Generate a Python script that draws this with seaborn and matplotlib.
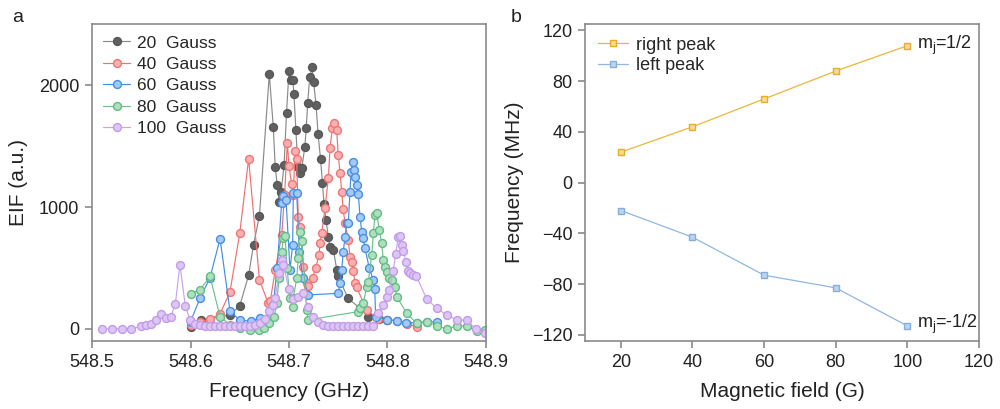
import matplotlib
matplotlib.use("Agg")
import matplotlib.pyplot as plt
import seaborn as sns

# ---- panel a: EIF scans at different fields ----
f_20 = [548.600, 548.611, 548.640, 548.650, 548.659, 548.664, 548.670, 548.680, 548.684, 548.686,
        548.688, 548.690, 548.692, 548.695, 548.6975, 548.700, 548.702, 548.704, 548.705, 548.707,
        548.709, 548.711, 548.713, 548.716, 548.7175, 548.719, 548.721, 548.7235, 548.725, 548.7275,
        548.7295, 548.732, 548.734, 548.7355, 548.7375, 548.740, 548.7415, 548.745, 548.7485, 548.750,
        548.760, 548.772, 548.780, 548.791, 548.799]
eif_20 = [15, 70, 115, 190, 440, 690, 930, 2090, 1660, 1330,
          1180, 1045, 1120, 1345, 1775, 2115, 2045, 2040, 1925, 1630,
          1330, 1275, 1320, 1490, 1645, 1855, 2065, 2145, 2025, 1835,
          1600, 1395, 1195, 1025, 895, 750, 675, 650, 485, 430,
          250, 170, 100, 80, 75]

f_40 = [548.600, 548.610, 548.620, 548.630, 548.640, 548.650, 548.659, 548.670, 548.679, 548.681,
        548.686, 548.6926, 548.6955, 548.6983, 548.700, 548.7027, 548.7044, 548.7061, 548.7078, 548.7094,
        548.7112, 548.7145, 548.718, 548.7196, 548.724, 548.727, 548.7305, 548.7315, 548.7332, 548.7365,
        548.740, 548.7416, 548.744, 548.746, 548.7484, 548.750, 548.7518, 548.7535, 548.755, 548.7569,
        548.7602, 548.7619, 548.7637, 548.7653, 548.767, 548.7687, 548.7789, 548.7906, 548.800, 548.8093,
        548.8195, 548.8296]
eif_40 = [35, 60, 80, 125, 300, 785, 1395, 400, 210, 230,
          480, 770, 1100, 1527, 1336, 1185, 1100, 1461, 1391, 921,
          839, 511, 375, 352, 420, 500, 607, 702, 784, 989,
          1240, 1481, 1645, 1686, 1631, 1426, 1281, 1125, 981, 866,
          730, 593, 552, 478, 375, 340, 156, 80, 75, 68,
          40, 19]

f_60 = [548.600, 548.6096, 548.6198, 548.630, 548.6401, 548.6503, 548.661, 548.671, 548.680, 548.684,
        548.688, 548.6925, 548.6942, 548.697, 548.701, 548.7037, 548.7044, 548.7078, 548.7105, 548.714,
        548.7196, 548.750, 548.7518, 548.7535, 548.7551, 548.7569, 548.7586, 548.7602, 548.7619, 548.763,
        548.7645, 548.766, 548.7675, 548.769, 548.7704, 548.7721, 548.7738, 548.7754, 548.7772, 548.7815,
        548.7856, 548.787, 548.788, 548.800, 548.8093, 548.819, 548.8296, 548.8398, 548.850]
eif_60 = [60, 250, 420, 740, 145, 70, 65, 90, 100, 200,
          500, 1030, 1090, 1060, 484, 689, 1112, 1115, 634, 420,
          279, 292, 375, 484, 634, 757, 866, 872, 1125, 1290,
          1370, 1300, 1250, 1180, 1107, 921, 798, 743, 661, 497,
          402, 330, 101, 74, 68, 52, 52, 57, 57]

f_80 = [548.600, 548.6096, 548.6198, 548.630, 548.640, 548.650, 548.660, 548.670, 548.675, 548.680,
        548.685, 548.6875, 548.690, 548.6926, 548.6942, 548.696, 548.698, 548.701, 548.7037, 548.7044,
        548.7078, 548.7094, 548.7112, 548.713, 548.718, 548.7196, 548.7704, 548.7721, 548.7754, 548.7789,
        548.7805, 548.784, 548.7856, 548.7873, 548.789, 548.7917, 548.7941, 548.7957, 548.7975, 548.7992,
        548.8018, 548.8043, 548.8076, 548.8093, 548.8195, 548.8296, 548.8398, 548.850, 548.860, 548.8703,
        548.8804, 548.8906, 548.899]
eif_80 = [290, 320, 430, 100, 35, 10, -10, -5, 10, 50,
          100, 210, 420, 634, 743, 760, 500, 250, 183, 252,
          416, 579, 798, 720, 156, 74, 142, 169, 210, 347,
          388, 607, 784, 934, 953, 811, 702, 566, 511, 470,
          416, 402, 347, 265, 128, 46, 60, 25, 0, 25,
          22, -20, -10]

f_100 = [548.5098, 548.520, 548.5302, 548.5396, 548.5494, 548.5545, 548.5599, 548.565, 548.570, 548.5751,
         548.5799, 548.5846, 548.5893, 548.5947, 548.5995, 548.605, 548.610, 548.615, 548.620, 548.625,
         548.630, 548.635, 548.640, 548.645, 548.650, 548.655, 548.660, 548.665, 548.6706, 548.6756,
         548.680, 548.684, 548.6858, 548.6901, 548.6926, 548.6942, 548.700, 548.7044, 548.7094, 548.7145,
         548.7196, 548.7247, 548.7297, 548.735, 548.740, 548.745, 548.750, 548.755, 548.760, 548.765,
         548.770, 548.775, 548.780, 548.785, 548.7907, 548.7957, 548.7992, 548.8018, 548.8059, 548.8083,
         548.811, 548.8127, 548.8144, 548.816, 548.8188, 548.8205, 548.823, 548.826, 548.829, 548.8398,
         548.850, 548.8601, 548.8703, 548.8804, 548.8896, 548.899]
eif_100 = [0, 0, 0, 0, 20, 30, 40, 74, 120, 93,
           96, 205, 527, 191, 74, 40, 30, 25, 20, 20,
           20, 20, 20, 22, 25, 20, 22, 30, 45, 80,
           147, 197, 254, 456, 565, 524, 325, 246, 265, 292,
           183, 101, 60, 30, 25, 20, 22, 20, 20, 22,
           20, 20, 22, 25, 134, 196, 265, 320, 478, 615,
           757, 762, 689, 639, 552, 478, 460, 440, 437, 246,
           169, 115, 74, 71, 0, -35]

scan_labels = ["20  Gauss", "40  Gauss", "60  Gauss", "80  Gauss", "100  Gauss"]

# ---- panel b: peak positions vs field ----
field = [20, 40, 60, 80, 100]
right_peak = [24, 44, 66, 88, 108]
left_peak = [-22, -43, -73, -83, -113]

sns.set_style("ticks")
plt.rcParams["font.family"] = ["Liberation Sans", "DejaVu Sans"]
plt.rcParams["mathtext.fontset"] = "custom"
plt.rcParams["mathtext.rm"] = "Liberation Sans"
plt.rcParams["mathtext.it"] = "Liberation Sans"

spine_col = "#8a8a8a"
text_col = "#222222"

fig = plt.figure(figsize=(10, 4.09), dpi=100)
ax_a = fig.add_axes([0.092, 0.166, 0.394, 0.775])
ax_b = fig.add_axes([0.585, 0.166, 0.394, 0.775])

# line colour, marker face, marker edge
scan_styles = [
    ("#8a8a8a", "#606060", "#585858"),
    ("#f07070", "#f8b0b0", "#ef7676"),
    ("#3f8fe8", "#a3c9f5", "#4a8fe2"),
    ("#6cc28c", "#afdfbe", "#62bc84"),
    ("#c9a3ec", "#dcc6f4", "#c29ce8"),
]
scans = [(f_20, eif_20), (f_40, eif_40), (f_60, eif_60), (f_80, eif_80), (f_100, eif_100)]

for (fx, fy), lab, (lc, mfc, mec) in zip(scans, scan_labels, scan_styles):
    sns.lineplot(x=fx, y=fy, ax=ax_a, estimator=None, sort=False, color=lc, linewidth=0.85,
                 marker="o", markersize=5.7, markerfacecolor=mfc, markeredgecolor=mec,
                 markeredgewidth=1.0, label=lab)

ax_a.set_xlim(548.5, 548.9)
ax_a.set_ylim(-100, 2500)
ax_a.set_xticks([548.5, 548.6, 548.7, 548.8, 548.9])
ax_a.set_yticks([0, 1000, 2000])
ax_a.set_xlabel("Frequency (GHz)", fontsize=15, color=text_col, labelpad=8)
ax_a.set_ylabel("EIF (a.u.)", fontsize=15, color=text_col, labelpad=8)
ax_a.legend(loc="upper left", frameon=False, fontsize=12.5, handlelength=1.55,
            handletextpad=0.4, labelspacing=0.36, borderaxespad=0.25)

# panel b
sns.lineplot(x=field, y=right_peak, ax=ax_b, estimator=None, color="#e9b73a", linewidth=0.9,
             marker="s", markersize=5, markerfacecolor="#f7dc8a", markeredgecolor="#e4ad2c",
             markeredgewidth=1.0, label="right peak")
sns.lineplot(x=field, y=left_peak, ax=ax_b, estimator=None, color="#8fb7e4", linewidth=0.9,
             marker="s", markersize=5, markerfacecolor="#bcd4ef", markeredgecolor="#86aedc",
             markeredgewidth=1.0, label="left peak")
ax_b.text(field[-1] + 2.6, right_peak[-1], "m$_\\mathrm{j}$=1/2", fontsize=13, color=text_col,
          va="center", ha="left")
ax_b.text(field[-1] + 2.6, left_peak[-1] + 1, "m$_\\mathrm{j}$=-1/2", fontsize=13, color=text_col,
          va="center", ha="left")

ax_b.set_xlim(10, 120)
ax_b.set_ylim(-125, 125)
ax_b.set_xticks([20, 40, 60, 80, 100, 120])
ax_b.set_yticks([-120, -80, -40, 0, 40, 80, 120])
ax_b.set_xlabel("Magnetic field (G)", fontsize=15, color=text_col, labelpad=8)
ax_b.set_ylabel("Frequency (MHz)", fontsize=15, color=text_col, labelpad=6)
ax_b.legend(loc="upper left", frameon=False, fontsize=13, handlelength=1.7,
            handletextpad=0.45, labelspacing=0.2, borderaxespad=0.3)

for ax in (ax_a, ax_b):
    for side in ["top", "bottom", "left", "right"]:
        ax.spines[side].set_visible(True)
        ax.spines[side].set_color(spine_col)
        ax.spines[side].set_linewidth(1.2)
    ax.tick_params(axis="both", direction="out", length=5, width=1.2, color=spine_col,
                   labelsize=13, labelcolor=text_col, top=False, right=False, pad=4)

fig.text(0.012, 0.956, "a", fontsize=14, color=text_col, va="center")
fig.text(0.511, 0.956, "b", fontsize=14, color=text_col, va="center")

fig.savefig("out.png", dpi=100)
